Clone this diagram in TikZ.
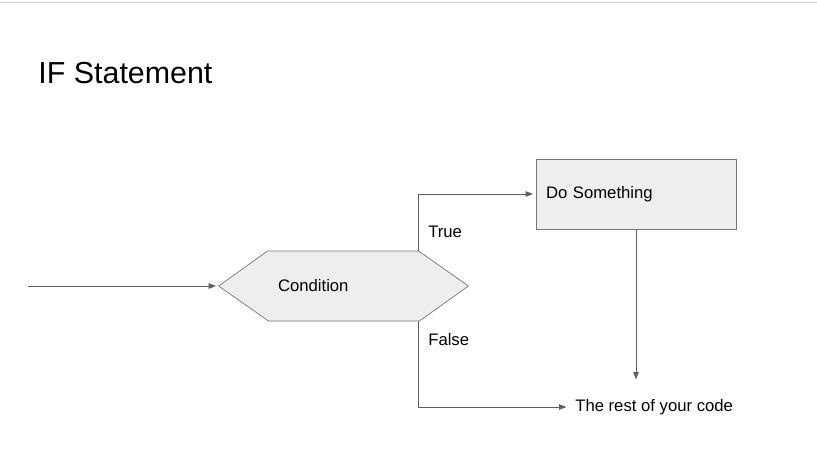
\documentclass[tikz,border=0pt]{standalone}
\usepackage{fontspec}
\setmainfont{Liberation Sans}
\usetikzlibrary{positioning,arrows.meta,calc,backgrounds}
\definecolor{boxfill}{HTML}{EEEEEE}
\definecolor{boxline}{HTML}{777777}
\definecolor{flowline}{HTML}{606060}
\definecolor{rule}{HTML}{CCCCCC}
\tikzset{
	chart/.style={x=0.02cm,y=-0.02cm,line width=0.5pt},
	title/.style={font=\fontsize{17.3pt}{20pt}\selectfont,anchor=base west,inner sep=0pt},
	txt/.style={font=\fontsize{9.5pt}{11pt}\selectfont},
	hexbox/.style={txt,minimum width=4.98cm,minimum height=1.4cm,inner xsep=0pt,
		text width=2.62cm,align=left},
	actbox/.style={txt,draw=boxline,fill=boxfill,minimum width=4cm,minimum height=1.4cm,
		inner xsep=0.2cm,text width=3.6cm,align=left},
	lbl/.style={txt,anchor=west},
	flow/.style={draw=flowline,-{Triangle[length=0.15cm,width=0.11cm]},shorten >=0.05cm}
}

\begin{document}
\begin{tikzpicture}[chart]
	\useasboundingbox (0,0) rectangle (817,466);
	\draw[rule] (0,2) -- (817,2);
	
	\node[title] (head) at (38,84) {IF Statement};
	
	\node[hexbox] (cond) at (343.5,286) {Condition};
	\node[actbox] (do) at (636,194) {Do Something};
	\node[lbl] (rest) at (569,407) {The rest of your code};
	\node[lbl] (true) at (422,232) {True};
	\node[lbl] (false) at (422,340) {False};
	
	\begin{scope}[on background layer]
		\draw[boxline,fill=boxfill] (cond.west) -- ++(49,-35) -- ++(151,0) -- (cond.east)
			-- ++(-49,35) -- ++(-151,0) -- cycle;
	\end{scope}
	
	\coordinate (in) at (28,286);
	\coordinate (tj) at ($(cond.north east)+(-50,0)$);
	\coordinate (fj) at ($(cond.south east)+(-50,0)$);
	\coordinate (restin) at (636,382);
	
	\path[flow] (in) -- (cond.west);
	\path[flow] (tj) |- (do.west);
	\path[flow] (fj) |- (rest.west);
	\path[flow] (do.south) -- (restin);
\end{tikzpicture}
\end{document}
